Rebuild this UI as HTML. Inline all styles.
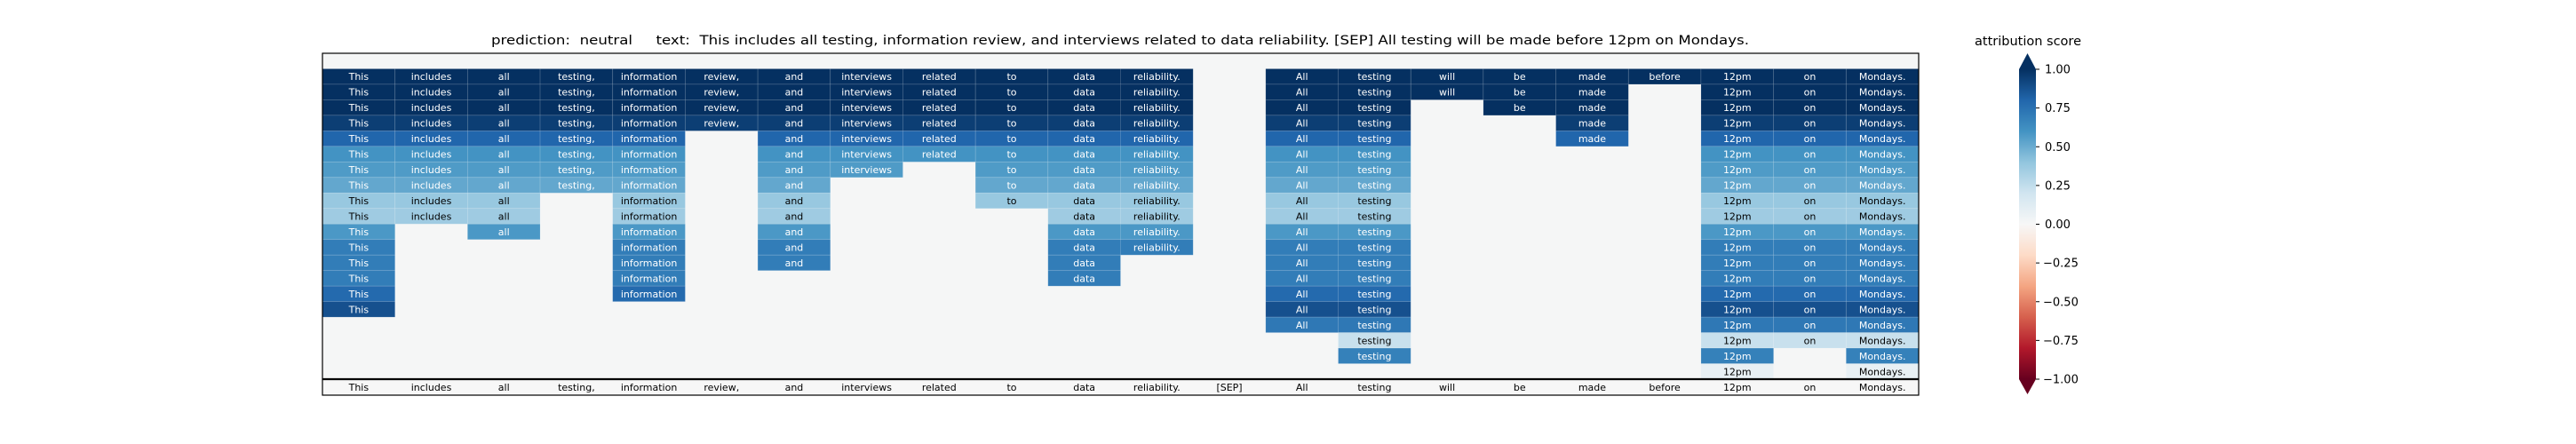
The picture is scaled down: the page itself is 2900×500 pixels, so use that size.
<!DOCTYPE html>
<html><head><meta charset="utf-8"><style>
html,body{margin:0;padding:0;background:#fff;}
svg{display:block;font-family:"DejaVu Sans","Liberation Sans",sans-serif;}
</style></head><body>
<svg id="chart" width="2900" height="500" viewBox="0 0 2900 500" xmlns="http://www.w3.org/2000/svg">
<text x="1261" y="50" font-size="14.5" text-anchor="middle" textLength="1416" lengthAdjust="spacingAndGlyphs" fill="#000" style="white-space:pre" xml:space="preserve">prediction:  neutral     text:  This includes all testing, information review, and interviews related to data reliability. [SEP] All testing will be made before 12pm on Mondays.</text>
<g id="cells"></g>
<g id="labels"></g>
<g id="cbar"></g>
</svg>
<script>
const tokens = ["This","includes","all","testing,","information","review,","and","interviews","related","to","data","reliability.","[SEP]","All","testing","will","be","made","before","12pm","on","Mondays."];
const rowValues = [0.0, 1.0, 1.0, 1.0, 0.95, 0.8, 0.6, 0.57, 0.52, 0.38, 0.36, 0.58, 0.7, 0.7, 0.7, 0.78, 0.88, 0.72, 0.23, 0.68, 0.08];
const rowMasks = [
"0000000000000000000000",
"1111111111110111111111",
"1111111111110111110111",
"1111111111110110110111",
"1111111111110110010111",
"1111101111110110010111",
"1111101111110110000111",
"1111101101110110000111",
"1111101001110110000111",
"1110101001110110000111",
"1110101000110110000111",
"1010101000110110000111",
"1000101000110110000111",
"1000101000100110000111",
"1000100000100110000111",
"1000100000000110000111",
"1000000000000110000111",
"0000000000000110000111",
"0000000000000010000111",
"0000000000000010000101",
"0000000000000000000101"];
const cbarTicks = [1.0, 0.75, 0.5, 0.25, 0.0, -0.25, -0.5, -0.75, -1.0];

const NS = "http://www.w3.org/2000/svg";
const stops = ["#67001f","#b2182b","#d6604d","#f4a582","#fddbc7","#f7f7f7","#d1e5f0","#92c5de","#4393c3","#2166ac","#053061"];
function hex(h){return [1,3,5].map(i=>parseInt(h.substr(i,2),16));}
function rdbu(v){
  v=Math.max(-1,Math.min(1,v));
  const t=(v+1)/2*10, i=Math.min(9,Math.floor(t)), f=t-i;
  const a=hex(stops[i]), b=hex(stops[i+1]);
  return "rgb("+a.map((c,k)=>Math.round(c+(b[k]-c)*f)).join(",")+")";
}
const X0=363, X1=2160, Y0=60, SEP_Y=427, Y1=445;
const colW=(X1-X0)/tokens.length;
const rowH=(SEP_Y-Y0)/rowValues.length;
const xOf=i=>X0+i*colW;
const yOf=r=>Y0+r*rowH;
function mk(tag,attrs,parent){const e=document.createElementNS(NS,tag);for(const k in attrs)e.setAttribute(k,attrs[k]);parent.appendChild(e);return e;}

const cells=document.getElementById("cells");
const bg=mk("rect",{x:X0,y:Y0,width:X1-X0,height:SEP_Y-Y0,fill:"#f5f6f6"},cells);


rowValues.forEach((v,r)=>{
  for(let c=0;c<tokens.length;c++){
    if(rowMasks[r][c]!=="1") continue;
    const rect=mk("rect",{x:xOf(c),y:yOf(r),width:colW,height:rowH,fill:rdbu(v),stroke:"rgba(255,255,255,0.15)","stroke-width":"0.8"},cells);
    
    
    const t=mk("text",{x:xOf(c)+colW/2,y:yOf(r)+rowH/2+4,"font-size":"11","text-anchor":"middle",fill:v>0.5?"#fff":"#000"},cells);
    
    
    t.textContent=tokens[c];
  }
});
const labels=document.getElementById("labels");
const lb=mk("rect",{x:X0,y:SEP_Y,width:X1-X0,height:Y1-SEP_Y,fill:"#f7f7f7"},labels);


tokens.forEach((tk,c)=>{
  const t=mk("text",{x:xOf(c)+colW/2,y:SEP_Y+13,"font-size":"11","text-anchor":"middle",fill:"#000"},labels);
  
  
  t.textContent=tk;
});
const frame=mk("rect",{x:X0,y:Y0,width:X1-X0,height:Y1-Y0,fill:"none",stroke:"#000","stroke-width":"1.2"},labels);


const sep=mk("line",{x1:X0,x2:X1,y1:SEP_Y,y2:SEP_Y,stroke:"#000","stroke-width":"2.2"},labels);



// colorbar
const cb=document.getElementById("cbar");
const CX0=2273, CX1=2292, CT=78, CB=427;
const cy=v=>CT+(1-v)/2*(CB-CT);
const defs=mk("defs",{},cb);
const grad=mk("linearGradient",{id:"g",x1:"0",y1:"1",x2:"0",y2:"0"},defs);
stops.forEach((s,i)=>mk("stop",{offset:(i/10),"stop-color":s},grad));
const bar=mk("rect",{x:CX0,y:CT,width:CX1-CX0,height:CB-CT,fill:"url(#g)"},cb);


const up=mk("polygon",{points:`${CX0},${CT} ${CX1},${CT} ${(CX0+CX1)/2},60`,fill:"#053061"},cb);


const dn=mk("polygon",{points:`${CX0},${CB} ${CX1},${CB} ${(CX0+CX1)/2},444`,fill:"#67001f"},cb);


cbarTicks.forEach(v=>{
  const l=mk("line",{x1:CX1,x2:CX1+4,y1:cy(v),y2:cy(v),stroke:"#000","stroke-width":"1"},cb);
  
  
  const t=mk("text",{x:CX1+(v<0?8:10),y:cy(v)+4.5,"font-size":"13",fill:"#000"},cb);
  
  
  t.textContent=(v<0?"\u2212":"")+Math.abs(v).toFixed(2);
});
const ct=mk("text",{x:2283,y:51,"font-size":"14.5","text-anchor":"middle",fill:"#000"},cb);


ct.textContent="attribution score";
</script>
</body></html>
